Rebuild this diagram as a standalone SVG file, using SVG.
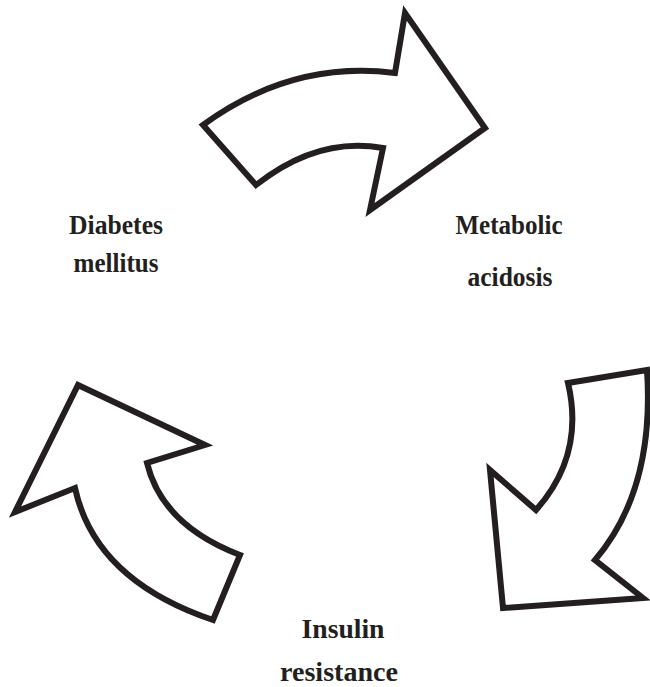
<svg xmlns="http://www.w3.org/2000/svg" width="650" height="687" viewBox="0 0 650 687">
<style>
.arrow{fill:#fff;stroke:#231f20;stroke-width:6;stroke-linejoin:miter;stroke-miterlimit:10}
.lbl{font-family:"Liberation Serif","Times New Roman",serif;font-weight:bold;font-size:28px;fill:#231f20;text-anchor:middle}
</style>
<rect width="650" height="687" fill="#fff"/>
<g id="connectors">
<path id="arrow-top" class="arrow" d="M203,125 Q292,60 395,73 L405,13 L485,128 L370,210 L383,148 Q318,136 256,185 Z"/>
<path id="arrow-right" class="arrow" d="M568,383 L647,370 Q655,490 595,560 L643,598 L503,608 L490,470 L536,510 Q585,455 568,383 Z"/>
<path id="arrow-left" class="arrow" d="M78,385 L205,445 L147,463 Q162,525 240,555 L213,620 Q95,580 75,488 L15,512 Z"/>
</g>
<g id="node-diabetes">
<text class="lbl" x="116" y="234" textLength="94" lengthAdjust="spacingAndGlyphs">Diabetes</text>
<text class="lbl" x="116" y="272" textLength="85" lengthAdjust="spacingAndGlyphs">mellitus</text>
</g>
<g id="node-acidosis">
<text class="lbl" x="509" y="234" textLength="107" lengthAdjust="spacingAndGlyphs">Metabolic</text>
<text class="lbl" x="510" y="286" textLength="85" lengthAdjust="spacingAndGlyphs">acidosis</text>
</g>
<g id="node-insulin">
<text class="lbl" x="343" y="638" textLength="83" lengthAdjust="spacingAndGlyphs">Insulin</text>
<text class="lbl" x="339" y="681" textLength="118" lengthAdjust="spacingAndGlyphs">resistance</text>
</g>
</svg>
